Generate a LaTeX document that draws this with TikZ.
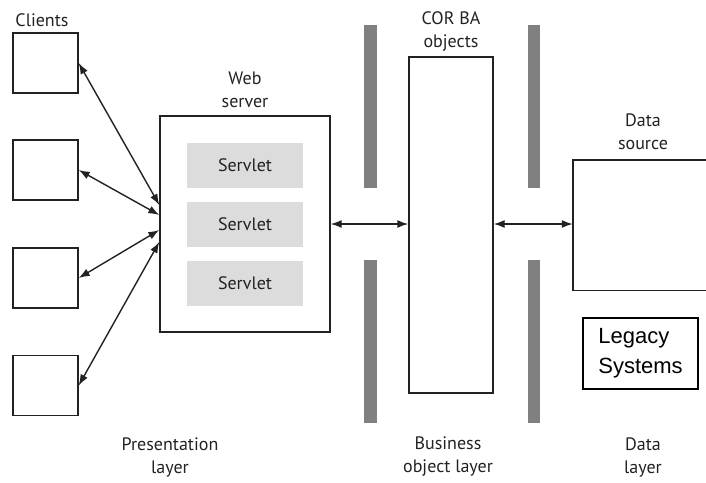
\documentclass[tikz,border=0pt]{standalone}
\usepackage{fontspec}
\setmainfont{PT Sans}
\newfontfamily\arialfont{Liberation Sans}
\usetikzlibrary{arrows.meta}
\definecolor{bargray}{HTML}{808080}
\definecolor{servgray}{HTML}{DCDCDC}
\definecolor{ink}{HTML}{222222}

\begin{document}
\begin{tikzpicture}[x=1pt,y=-1pt,
   clientbox/.style={draw=ink,line width=1.4pt,minimum width=65pt,minimum height=60pt,inner sep=0pt},
   frame/.style={draw=ink,line width=1.4pt,inner sep=0pt},
   servlet/.style={fill=servgray,minimum width=116pt,minimum height=45pt,text=ink,font=\fontsize{18}{22}\selectfont},
   tag/.style={align=center,text=ink,font=\fontsize{18}{23}\selectfont},
   bar/.style={fill=bargray},
   biarrow/.style={{Latex[length=11pt,width=8pt]}-{Latex[length=11pt,width=8pt]},draw=ink,line width=1.4pt}]

  \useasboundingbox (0,0) rectangle (706,482);

  % --- clientes ---
  \node[tag] (clients) at (42,20) {Clients};
  \foreach \i/\y in {1/63,2/170,3/278,4/385.5}
    \node[clientbox] (c\i) at (45.5,\y) {};

  % --- servidor web ---
  \node[frame,minimum width=170pt,minimum height=216pt] (web) at (245,224) {};
  \node[tag] (webtag) at (245,90) {Web\\server};
  \node[servlet] (s1) at (245,165) {Servlet};
  \node[servlet] (s2) at (245,224) {Servlet};
  \node[servlet] (s3) at (245,283) {Servlet};

  \draw[biarrow] (c1.east) -- ([yshift=19pt]web.west);
  \draw[biarrow] (c2.east) -- ([yshift=9pt]web.west);
  \draw[biarrow] (c3.east) -- ([yshift=-6pt]web.west);
  \draw[biarrow] (c4.east) -- ([yshift=-18pt]web.west);

  % --- barreras ---
  \fill[bar] (364,25) rectangle (377,188);
  \fill[bar] (364,260) rectangle (377,423);
  \fill[bar] (528,25) rectangle (540,188);
  \fill[bar] (528,260) rectangle (540,423);

  % --- objetos CORBA ---
  \node[frame,minimum width=84pt,minimum height=336pt] (corba) at (451,225) {};
  \node[tag] (corbatag) at (451,31) {COR BA\\objects};
  \draw[biarrow] (web.east) -- (web.east -| corba.west);

  % --- fuente de datos ---
  \node[minimum width=133pt,minimum height=130pt,inner sep=0pt] (src) at (639.5,225) {};
  \draw[ink,line width=1.4pt] (src.north east) -- (src.north west) -- (src.south west) -- (src.south east);
  \node[tag] (srctag) at (643,132) {Data\\source};
  \draw[biarrow] (web.east -| corba.east) -- (web.east -| src.west);

  \node[draw=black,line width=2pt,align=left,minimum width=115pt,minimum height=71pt,inner sep=0pt,
        font=\arialfont\fontsize{22}{30}\selectfont] (legacy) at (640.5,353.5) {Legacy\\Systems};

  % --- capas ---
  \node[tag] (pres) at (170,457) {Presentation\\layer};
  \node[tag] (bus) at (448,457) {Business\\object layer};
  \node[tag] (dat) at (643,457) {Data\\layer};
\end{tikzpicture}
\end{document}
